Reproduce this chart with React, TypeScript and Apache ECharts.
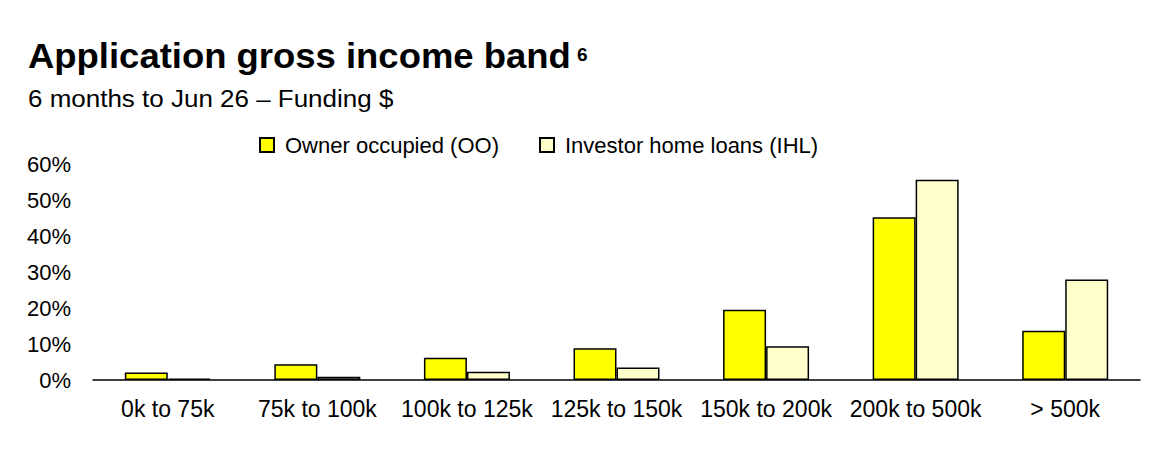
import React, { useEffect, useRef } from "react";
import * as echarts from "echarts";

const categories = ["0k to 75k", "75k to 100k", "100k to 125k", "125k to 150k", "150k to 200k", "200k to 500k", "> 500k"];
const ownerOccupied = [2.1, 4.4, 6.2, 8.8, 19.5, 45.2, 13.7];
const investorHomeLoans = [0.4, 0.9, 2.3, 3.5, 9.4, 55.6, 27.9];
const seriesNames = ["Owner occupied (OO)", "Investor home loans (IHL)"];
const titleText = "Application gross income band";
const titleSup = "6";
const subtitleText = "6 months to Jun 26 \u2013 Funding $";

const FONT = '"Liberation Sans", Arial, Helvetica, sans-serif';

export default function App() {
  const ref = useRef<HTMLDivElement>(null);
  useEffect(() => {
    if (!ref.current) return;
    const chart = echarts.init(ref.current, null, { renderer: "svg" });
    const legendText = { fontFamily: FONT, fontSize: 22, color: "#000", lineHeight: 24, padding: [0, 0, 0, 6] };
    chart.setOption({
      animation: false,
      backgroundColor: "#fff",
      textStyle: { fontFamily: FONT },
      graphic: [
        {
          type: "text",
          x: 28,
          y: 56,
          scaleX: 1.013,
          style: { text: titleText, font: `bold 36px ${FONT}`, fill: "#000", verticalAlign: "middle", align: "left" },
        },
        {
          type: "text",
          x: 577,
          y: 54.5,
          style: { text: titleSup, font: `bold 19px ${FONT}`, fill: "#000", verticalAlign: "middle", align: "left" },
        },
        {
          type: "text",
          x: 28,
          y: 98.5,
          scaleX: 1.083,
          style: { text: subtitleText, font: `24px ${FONT}`, fill: "#000", verticalAlign: "middle", align: "left" },
        },
      ],
      legend: [
        {
          left: 259,
          top: 133,
          padding: 0,
          itemWidth: 14,
          itemHeight: 14,
          icon: "rect",
          data: [seriesNames[0]],
          textStyle: legendText,
        },
        {
          left: 539,
          top: 133,
          padding: 0,
          itemWidth: 14,
          itemHeight: 14,
          icon: "rect",
          data: [seriesNames[1]],
          textStyle: legendText,
        },
      ],
      grid: { left: 93, right: 16, top: 164, bottom: 78, containLabel: false },
      xAxis: {
        type: "category",
        data: categories,
        axisLine: { show: true, lineStyle: { color: "#000", width: 1.5 } },
        axisTick: { show: false },
        axisLabel: { fontFamily: FONT, fontSize: 23, color: "#000", margin: 16, lineHeight: 26, interval: 0 },
        splitLine: { show: false },
      },
      yAxis: {
        type: "value",
        min: 0,
        max: 60,
        interval: 10,
        axisLine: { show: false },
        axisTick: { show: false },
        splitLine: { show: false },
        axisLabel: { fontFamily: FONT, fontSize: 22, color: "#000", margin: 22, formatter: "{value}%" },
      },
      series: [
        {
          name: seriesNames[0],
          type: "bar",
          data: ownerOccupied,
          barWidth: 43,
          barGap: "0%",
          itemStyle: { color: "#FFFF00", borderColor: "#000", borderWidth: 1.5 },
        },
        {
          name: seriesNames[1],
          type: "bar",
          data: investorHomeLoans,
          barWidth: 43,
          barGap: "0%",
          itemStyle: { color: "#FFFFCC", borderColor: "#000", borderWidth: 1.5 },
        },
      ],
    });
    return () => chart.dispose();
  }, []);
  return <div ref={ref} style={{ position: "fixed", left: 0, top: 0, width: 1156, height: 458 }} />;
}
